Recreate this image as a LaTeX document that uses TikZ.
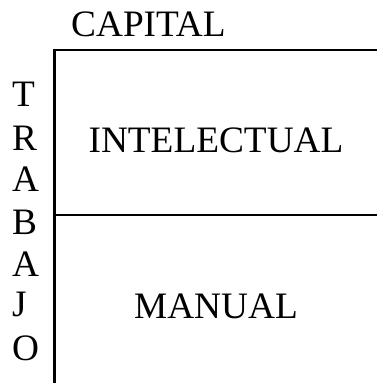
\documentclass[tikz,border=0pt]{standalone}
\usepackage{fontspec}
\setmainfont{Liberation Serif}
\begin{document}
\begin{tikzpicture}[x=1pt,y=1pt,
  lbl/.style={inner sep=0pt,font=\fontsize{37.3}{44}\selectfont},
  rule/.style={line width=2.4pt}]
\useasboundingbox (0,0) rectangle (377,383);
\coordinate (tl) at (54.5,333);
\coordinate (tr) at (377,333);
\coordinate (bl) at (54.5,0);
\coordinate (ml) at (54.5,168);
\coordinate (mr) at (377,168);
\draw[rule] (tr) -- (tl) -- (bl);
\draw[rule] (ml) -- (mr);
\node[lbl,anchor=base west] (cap) at (71,346) {CAPITAL};
\node[lbl,anchor=base] (int) at (216,230) {INTELECTUAL};
\node[lbl,anchor=base] (man) at (216,64) {MANUAL};
\node[lbl,anchor=base west] (t1) at (12,276) {T};
\node[lbl,anchor=base west] (t2) at (12,232) {R};
\node[lbl,anchor=base west] (t3) at (12,191) {A};
\node[lbl,anchor=base west] (t4) at (12,148) {B};
\node[lbl,anchor=base west] (t5) at (12,106) {A};
\node[lbl,anchor=base west] (t6) at (12,66) {J};
\node[lbl,anchor=base west] (t7) at (12,22) {O};
\end{tikzpicture}
\end{document}
